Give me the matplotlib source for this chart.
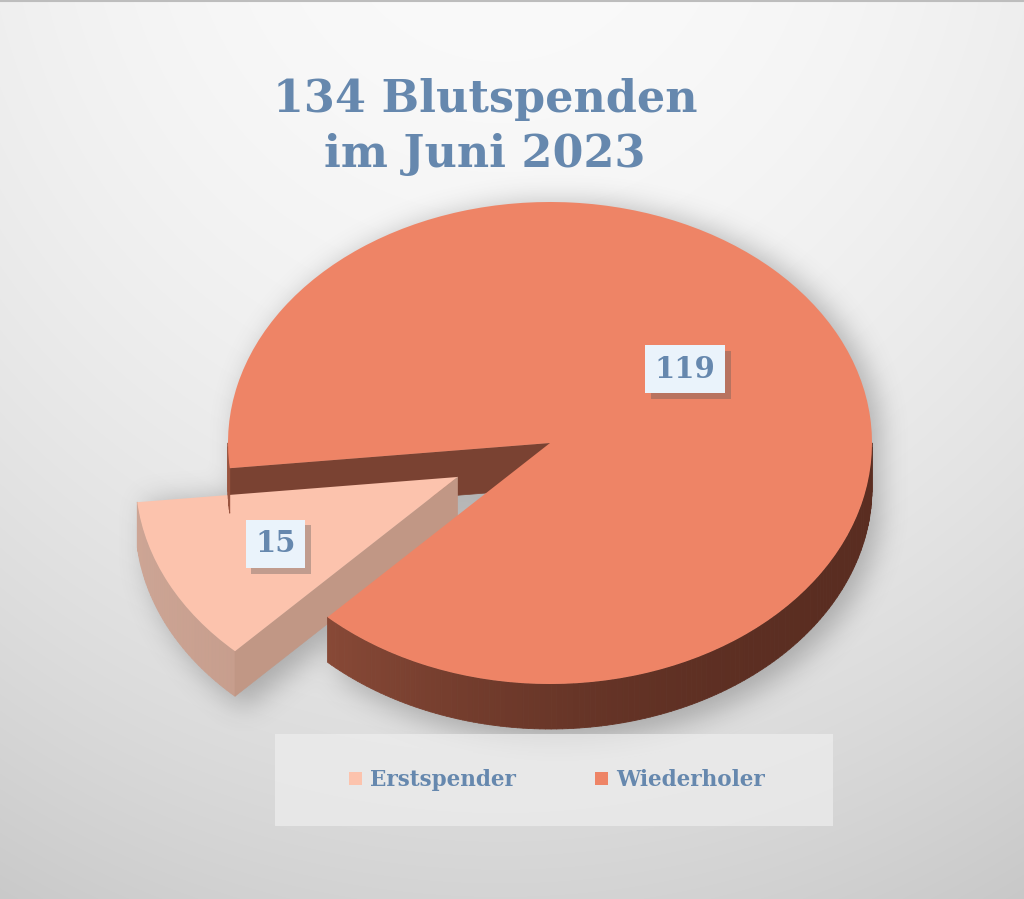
import numpy as np
import matplotlib.pyplot as plt
import matplotlib.patheffects as pe
from matplotlib.patches import Polygon, Rectangle
from matplotlib.collections import PolyCollection
from matplotlib.colors import to_rgb
from matplotlib.path import Path

labels = ['Erstspender', 'Wiederholer']
values = [15, 119]
title = '134 Blutspenden\nim Juni 2023'

top_colors = ['#FCC3AD', '#EE8466']
side_light = ['#CDA595', '#9A543F']
side_dark = ['#B98C7A', '#5A2D21']
cut_colors = ['#C19785', '#7A4232']
text_color = '#6688AE'
explode = [0.32, 0]

W, H = 1024, 899
CX, CY, RX, RY = 550, 443, 322, 241   # pie centre / radii in pixels
DEPTH = 45 / RY                       # thickness of the pie in data units

plt.rcParams['font.family'] = ['DejaVu Serif']

fig = plt.figure(figsize=(W / 100, H / 100), dpi=100)

# background: light at the top, greyer towards the bottom and edges
bg = fig.add_axes([0, 0, 1, 1])
bg.axis('off')
yy, xx = np.mgrid[0:H, 0:W]
dist = np.clip(np.hypot((xx - 500) / 600, (yy - 200) / 650), 0, 1.4)
shade = 0.985 - 0.085 * yy / H - 0.06 * dist ** 2
bg.imshow(np.dstack([shade] * 3), extent=[0, W, H, 0], aspect='auto', zorder=0,
          interpolation='bilinear')
bg.axhline(1, color='#bdbdbd', lw=1.5, zorder=5)

ax = fig.add_axes([0, 0, 1, 1])
ax.axis('off')
wedges, _ = ax.pie(values, explode=explode, colors=top_colors, startangle=186,
                   radius=1, wedgeprops=dict(linewidth=0))


def arc(w, ang):
    r = np.radians(ang)
    return w.center[0] + w.r * np.cos(r), w.center[1] + w.r * np.sin(r)


for i, w in enumerate(wedges):
    z = 2 if explode[i] > 0 else 3
    w.set_zorder(z + 0.5)
    # outer side, only the part facing the viewer
    for k in range(-1, 3):
        lo, hi = max(w.theta1, 180 + 360 * k), min(w.theta2, 360 + 360 * k)
        if hi <= lo:
            continue
        a = np.linspace(lo, hi, int(hi - lo) + 2)
        x, y = arc(w, a)
        quads = [[(x[j], y[j]), (x[j + 1], y[j + 1]),
                  (x[j + 1], y[j + 1] - DEPTH), (x[j], y[j] - DEPTH)]
                 for j in range(len(a) - 1)]
        mid = np.radians((a[:-1] + a[1:]) / 2)
        f = ((1 - np.cos(mid)) / 2) ** 2
        light, dark = np.array(to_rgb(side_light[i])), np.array(to_rgb(side_dark[i]))
        cols = dark + f[:, None] * (light - dark)
        ax.add_collection(PolyCollection(quads, facecolors=cols, edgecolors=cols,
                                         linewidths=0.6, zorder=z))
    # cut faces
    for t, sign in ((w.theta1, 1), (w.theta2, -1)):
        if sign * np.cos(np.radians(t)) > 0:
            ex, ey = arc(w, t)
            c0, c1 = w.center
            ax.add_patch(Polygon([(c0, c1), (ex, ey), (ex, ey - DEPTH), (c0, c1 - DEPTH)],
                                 closed=True, fc=cut_colors[i], ec=cut_colors[i], lw=0.5,
                                 zorder=z if explode[i] > 0 else 1))

ax.set_xlim(-CX / RX, (W - CX) / RX)
ax.set_ylim(-(H - CY) / RY, CY / RY)
ax.set_aspect('auto')


# soft shadow under the pie
def blur(img, r):
    n = 2 * r + 1
    for axis in (0, 1):
        pad = [(r, r) if a == axis else (0, 0) for a in range(2)]
        c = np.cumsum(np.pad(img, pad, mode='edge'), axis=axis)
        c = np.insert(c, 0, 0, axis=axis)
        L = c.shape[axis]
        img = (np.take(c, range(n, L), axis=axis) - np.take(c, range(0, L - n), axis=axis)) / n
    return img


sy, sx = np.mgrid[0:H:2, 0:W:2]
pts = np.c_[sx.ravel(), sy.ravel()]
mask = np.zeros(len(pts), bool)
for w in wedges:
    x, y = arc(w, np.linspace(w.theta1, w.theta2, 90))
    px = CX + np.r_[w.center[0], x] * RX
    py = CY - np.r_[w.center[1], y] * RY
    for s in np.linspace(0, DEPTH * RY + 12, 6):
        mask |= Path(np.c_[px + 8, py + s]).contains_points(pts)
mask = mask.reshape(sx.shape).astype(float)
for _ in range(3):
    mask = blur(mask, 6)
shadow = np.zeros(mask.shape + (4,))
shadow[..., :3] = 0.3
shadow[..., 3] = mask * 0.36
bg.imshow(shadow, extent=[0, W, H, 0], aspect='auto', zorder=1, interpolation='bilinear')

# legend box
bg.add_patch(Rectangle((275, 734), 558, 92, fc='#EEEEEE', ec='none', alpha=0.7, zorder=3))
bg.set_xlim(0, W)
bg.set_ylim(H, 0)

# data labels
label_r = [0.63, 0.52]
label_turn = [0, 10]
for i, w in enumerate(wedges):
    mid = np.radians((w.theta1 + w.theta2) / 2 + label_turn[i])
    lx = w.center[0] + label_r[i] * np.cos(mid)
    ly = w.center[1] + label_r[i] * np.sin(mid)
    t = ax.text(lx, ly, str(values[i]), color=text_color, fontsize=21, fontweight='bold',
                ha='center', va='center', zorder=7,
                bbox=dict(boxstyle='square,pad=0.33', fc='#EAF3FB', ec='none'))
    t.get_bbox_patch().set_path_effects(
        [pe.SimplePatchShadow(offset=(4, -4), shadow_rgbFace='#555555', alpha=0.35),
         pe.Normal()])

ax.legend(wedges, labels, loc='center', bbox_to_anchor=(557 / W, 1 - 780 / H),
          bbox_transform=fig.transFigure, ncol=2, frameon=False,
          prop=dict(family='DejaVu Serif', weight='bold', size=15.5),
          labelcolor=text_color, handlelength=0.6, handleheight=0.6,
          handletextpad=0.35, columnspacing=3.7)

fig.text(485 / W, 1 - 127 / H, title, ha='center', va='center', fontsize=32,
         fontweight='bold', color=text_color, linespacing=1.36)

fig.savefig('out.png', dpi=100)
